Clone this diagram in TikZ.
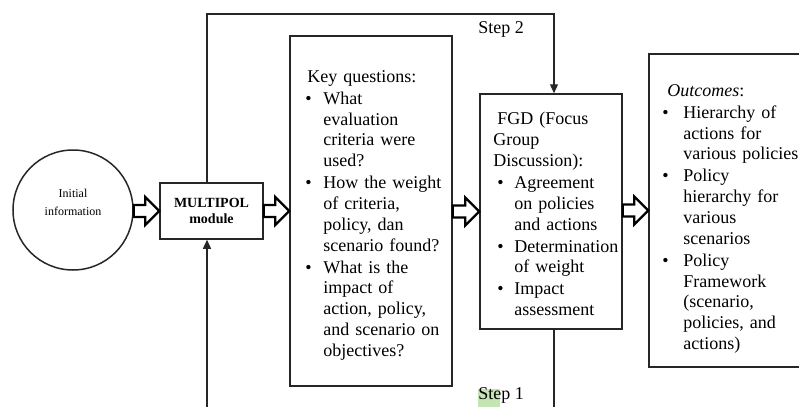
\documentclass[tikz,border=0pt]{standalone}
\usepackage{fontspec}
\setmainfont{Liberation Serif}
\usepackage{tikz}
\usetikzlibrary{arrows.meta}
\usetikzlibrary{positioning}
\usetikzlibrary{calc}

\newcommand{\bpoint}[2]{\par\vspace{0.6pt}\hangindent=#2\hangafter=1\noindent\makebox[#2][l]{\hspace{#1}\textbullet}}
\newcommand{\nl}{\newline}

\begin{document}
\begin{tikzpicture}[x=0.5pt, y=-0.5pt,
		box/.style={draw=black!85, line width=0.75pt, rectangle, inner sep=0pt},
		link/.style={draw=black!85, line width=0.6pt},
		linkarrow/.style={link, -{Triangle[length=4.5pt, width=4pt]}},
		fatarrow/.style={draw=black, fill=white, line width=1.1pt, line join=miter},
		bodytext/.style={inner sep=0pt, anchor=north west, text width=#1, font=\fontsize{9}{10.4}\selectfont},
		steplabel/.style={inner sep=0pt, anchor=west, font=\fontsize{9}{10.4}\selectfont}]
			\useasboundingbox (0,0) rectangle (799,407);
			\clip (0,0) rectangle (799,407);
			% boxes
			\node[box, circle, minimum size=60pt] (info) at (73,210) {};
			\node[inner sep=0pt, align=center, font=\fontsize{6}{9}\selectfont] (infotext) at (73,202) {Initial\\information};
			\node[box, minimum width=51.5pt, minimum height=28pt, align=center, font=\bfseries\fontsize{7}{8}\selectfont] (multipol) at (211.5,211) {MULTIPOL\\module};
			\node[box, minimum width=81pt, minimum height=175pt] (keyq) at (371,211) {};
			\node[box, minimum width=71pt, minimum height=117.5pt] (fgd) at (551,211.5) {};
			\node[box, minimum width=82pt, minimum height=156.5pt] (outcomes) at (731,210.5) {};
			% texts
			\node[bodytext=70pt] (keytext) at (305,70) {\noindent\hspace{1pt}Key questions:
				\bpoint{0pt}{9pt}What\nl evaluation\nl criteria were\nl used?
				\bpoint{0pt}{9pt}How the weight\nl of criteria,\nl policy, dan\nl scenario found?
				\bpoint{0pt}{9pt}What is the\nl impact of\nl action, policy,\nl and scenario on\nl objectives?\par};
			\node[bodytext=68pt] (fgdtext) at (493,112) {\noindent\hspace{2pt}FGD (Focus\nl Group\nl Discussion):
				\bpoint{2pt}{10.5pt}Agreement\nl on policies\nl and actions
				\bpoint{2pt}{10.5pt}Determination\nl of weight
				\bpoint{2pt}{10.5pt}Impact\nl assessment\par};
			\node[bodytext=75pt] (outtext) at (662,84) {\noindent\hspace{2.5pt}\textit{Outcomes}:
				\bpoint{0pt}{10.5pt}Hierarchy of\nl actions for\nl various policies
				\bpoint{0pt}{10.5pt}Policy\nl hierarchy for\nl various\nl scenarios
				\bpoint{0pt}{10.5pt}Policy\nl Framework\nl (scenario,\nl policies, and\nl actions)\par};
			% hollow arrows
			\foreach \a/\b in {info/multipol, multipol/keyq, keyq/fgd, fgd/outcomes}
			{
				\draw[fatarrow] let \p1=(\a.east), \p2=(\b.west) in
					(\x1,\y2+3pt) -- (\x2-7pt,\y2+3pt) -- (\x2-7pt,\y2+7pt) -- (\x2,\y2)
					-- (\x2-7pt,\y2-7pt) -- (\x2-7pt,\y2-3pt) -- (\x1,\y2-3pt) -- cycle;
			}
			% step loops
			\coordinate (top) at (380,14);
			\coordinate (bottom) at (380,412);
			\coordinate (mpout) at ([xshift=-2.25pt]multipol.north);
			\coordinate (mpin) at ([xshift=-2.25pt]multipol.south);
			\coordinate (fgdin) at ([xshift=1.5pt]fgd.north);
			\coordinate (fgdout) at ([xshift=1.5pt]fgd.south);
			\draw[linkarrow] (mpout) |- (top) -| (fgdin);
			\draw[link] (fgdout) -- (fgdout |- bottom);
			\draw[linkarrow] (mpin |- bottom) -- (mpin);
			\fill[fill={rgb,255:red,196;green,228;blue,178}] (478,389) rectangle (500,407);
			\node[steplabel] (steptwo) at (478,29) {Step 2};
			\node[steplabel] (stepone) at (478,395) {Step 1};
		\end{tikzpicture}
\end{document}
